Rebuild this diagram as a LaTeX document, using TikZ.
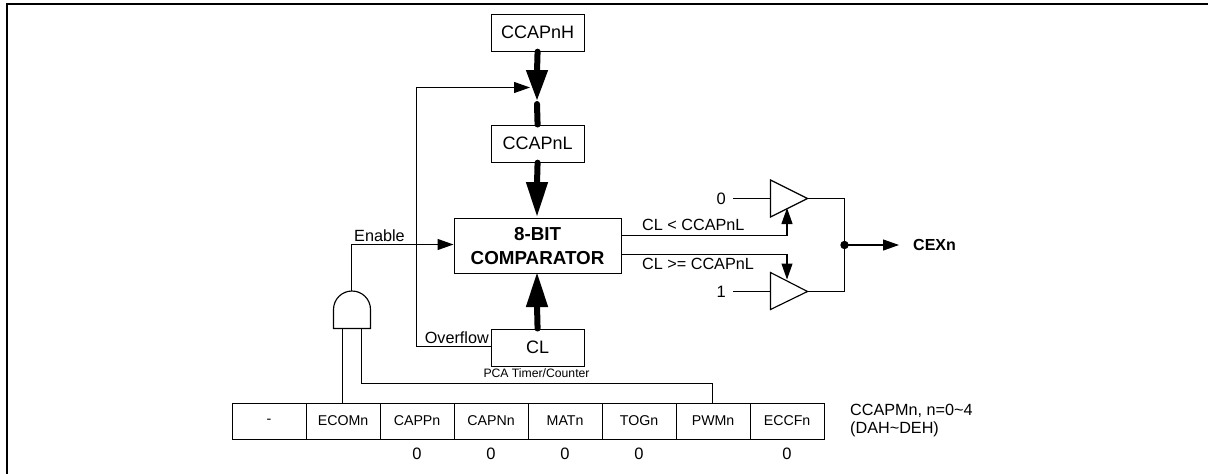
\documentclass[tikz,border=0pt]{standalone}
\usepackage{fontspec}
\setmainfont{Liberation Sans}
\usetikzlibrary{arrows.meta,calc}
\tikzset{
  x=1pt,y=-1pt,
  line/.style={draw=black,line width=1.15pt},
  box/.style={draw=black,line width=1.15pt,fill=white,inner sep=0pt,anchor=north west,font=\fontsize{18}{20}\selectfont},
  cell/.style={draw=black,line width=1.15pt,inner sep=0pt,minimum width=74pt,minimum height=36pt,anchor=north west,font=\fontsize{14.2}{16}\selectfont},
  lab/.style={inner sep=0pt,font=\fontsize{16.2}{18}\selectfont},
  arr/.style={line,-{Triangle[length=16pt,width=11pt]}},
  bus/.style={draw=black,line width=6pt,line cap=round},
  bushead/.style={draw=none,fill=black},
  dig/.style={inner sep=0pt,font=\fontsize{16.5}{18}\selectfont},
}
\begin{document}
\begin{tikzpicture}
\useasboundingbox (0,0) rectangle (1208,474);
\draw[line width=2.2pt] (7,474) -- (7,4) -- (1208,4);
% boxes
\node[box,minimum width=93pt,minimum height=37pt] (h) at (490.5,13.5) {CCAPnH};
\node[box,minimum width=93pt,minimum height=37pt] (l) at (490.5,124.5) {CCAPnL};
\node[box,minimum width=167pt,minimum height=55pt,align=center,font=\bfseries\fontsize{18.8}{24}\selectfont] (cmp) at (453.5,217.5) {8-BIT\\COMPARATOR};
\node[box,minimum width=93pt,minimum height=37pt] (cl) at (490.5,328.5) {CL};
\node[lab,font=\fontsize{12.2}{14}\selectfont] (pca) at (536.5,373) {PCA Timer/Counter};
% thick buses
\coordinate (m) at (537,100);
\draw[bus] (h.south) -- (537,72);
\fill[bushead] (525.8,70) -- (548.2,70) -- (m) -- cycle;
\draw[bus] (537,104) -- (l.north);
\draw[bus] (l.south) -- (537,184);
\fill[bushead] (525.8,182) -- (548.2,182) -- (537,216) -- cycle;
\draw[bus] (cl.north) -- (537,305);
\fill[bushead] (525.8,307) -- (548.2,307) -- (537,273) -- cycle;
% register
\node[cell] (r0) at (231.5,402.5) {-};
\node[cell] (r1) at (305.5,402.5) {ECOMn};
\node[cell] (r2) at (379.5,402.5) {CAPPn};
\node[cell] (r3) at (453.5,402.5) {CAPNn};
\node[cell] (r4) at (527.5,402.5) {MATn};
\node[cell] (r5) at (601.5,402.5) {TOGn};
\node[cell] (r6) at (675.5,402.5) {PWMn};
\node[cell] (r7) at (749.5,402.5) {ECCFn};
\foreach \c/\n in {r2/a,r3/b,r4/c,r5/d,r7/e}{\node[dig] (z\n) at ($(\c.south)+(0,14)$) {0};}
\node[lab,anchor=west,align=left,font=\fontsize{16.2}{17.5}\selectfont] (reg) at (850,420.5) {CCAPMn, n=0\textasciitilde4\\(DAH\textasciitilde DEH)};
% AND gate
\coordinate (gl) at (333.5,328.5);
\coordinate (gr) at (370.5,328.5);
\draw[line,fill=white] (gl) -- (333.5,309.5) arc[start angle=180,end angle=360,radius=18.5] -- (gr) -- cycle;
\coordinate (gt) at (351.5,291);
\coordinate (ge) at (351.5,244.5);
\coordinate (i1) at (342.5,328.5);
\coordinate (i2) at (361.5,328.5);
\draw[line] (i1) -- (i1 |- r1.north);
\coordinate (c1) at (361.5,383.5);
\coordinate (c2) at (712.5,383.5);
\draw[line] (i2) -- (c1) -- (c2) -- (c2 |- r6.north);
\draw[arr] (gt) -- (ge) -- (ge -| cmp.west);
\node[lab,anchor=south west] (en) at (354,242) {Enable};
% overflow
\coordinate (o1) at (416.5,346.5);
\coordinate (o2) at (416.5,87.5);
\coordinate (o3) at (530,87.5);
\draw[arr] (o1 -| cl.west) -- (o1) -- (o2) -- (o3);
\node[lab,anchor=south east] (ov) at (489,344) {Overflow};
% buffers
\coordinate (b1l) at (770.5,198.5); \coordinate (b1r) at (807.5,198.5);
\coordinate (b2l) at (770.5,291.5); \coordinate (b2r) at (807.5,291.5);
\draw[line,fill=white] (770.5,180) -- (b1r) -- (770.5,217) -- cycle;
\draw[line,fill=white] (770.5,272.5) -- (b2r) -- (770.5,309.5) -- cycle;
\node[dig,anchor=east] (v0) at (726,198.5) {0};
\node[dig,anchor=east] (v1) at (726,291.5) {1};
\draw[line] (733,198.5) -- (b1l);
\draw[line] (733,291.5) -- (b2l);
\coordinate (up) at (787,235.5);
\coordinate (dn) at (787,254.5);
\draw[arr] (up -| cmp.east) -- (up) -- (787,208);
\draw[arr] (dn -| cmp.east) -- (dn) -- (787,279.5);
\node[lab,anchor=base west] (lt) at (642,230) {CL < CCAPnL};
\node[lab,anchor=base west] (ge2) at (642,269) {CL >= CCAPnL};
\coordinate (j) at (844.5,245);
\draw[line] (b1r) -- (844.5,198.5) -- (844.5,291.5) -- (b2r);
\fill (j) circle (4.2);
\node[lab,anchor=west,font=\bfseries\fontsize{16}{18}\selectfont] (cex) at (913,245) {CEXn};
\coordinate (ce) at (899,245);
\draw[arr] (j) -- (ce);
\end{tikzpicture}
\end{document}
